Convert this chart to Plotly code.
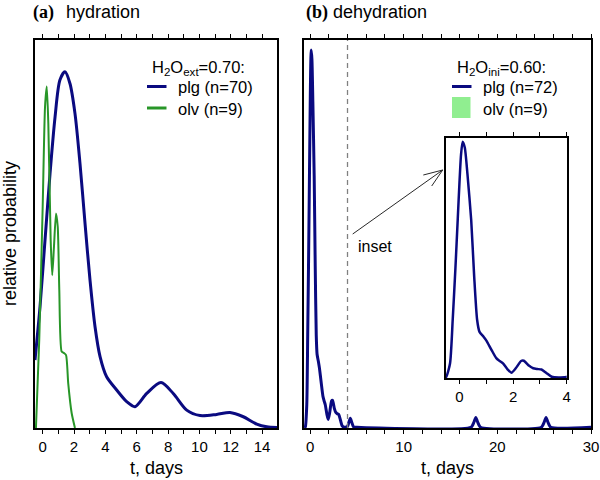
import plotly.graph_objects as go

# ---------------- data ----------------
# (a) hydration, H2O_ext = 0.70
t_plg_a = [-0.49, -0.17, 0.15, 0.47, 0.79, 1.10, 1.42, 1.74, 2.06, 2.38, 2.70, 3.02, 3.34,
           3.66, 4.08, 4.72, 5.36, 5.89, 6.64, 7.55, 8.33, 9.19, 10.04, 11.1, 11.95, 12.8,
           13.66, 14.3, 14.95]
p_plg_a = [0.175, 0.313, 0.485, 0.656, 0.802, 0.897, 0.918, 0.888, 0.811, 0.682, 0.528, 0.381,
           0.261, 0.184, 0.132, 0.098, 0.068, 0.055, 0.089, 0.117, 0.089, 0.046, 0.032, 0.035,
           0.040, 0.029, 0.010, 0.003, 0.001]
t_olv_a = [-0.43, -0.22, 0.0, 0.15, 0.26, 0.36, 0.51, 0.61, 0.72, 0.85, 0.96, 1.06, 1.21,
           1.36, 1.49, 1.63, 1.85, 2.06]
p_olv_a = [0.0, 0.227, 0.57, 0.828, 0.88, 0.785, 0.485, 0.394, 0.467, 0.553, 0.519, 0.356,
           0.197, 0.193, 0.188, 0.115, 0.038, 0.0]

# (b) dehydration, H2O_ini = 0.60
t_plg_b = [-0.6, -0.5, -0.35, -0.25, -0.15, -0.06, 0.0, 0.06, 0.12, 0.2, 0.3, 0.44, 0.55,
           0.66, 0.75, 0.9, 1.0, 1.2, 1.375, 1.5, 1.625, 1.8, 1.94, 2.1, 2.3, 2.4, 2.6, 2.75,
           2.9, 3.06, 3.25, 3.44, 3.7, 4.0, 4.15, 4.3, 4.45, 4.65, 5.0, 17.2, 17.5, 17.7,
           17.9, 18.2, 24.7, 25.0, 25.2, 25.4, 25.7, 30.0]
p_plg_b = [0.0, 0.003, 0.06, 0.24, 0.45, 0.66, 0.80, 0.92, 0.974, 0.95, 0.84, 0.65, 0.42,
           0.24, 0.19, 0.17, 0.155, 0.115, 0.082, 0.07, 0.06, 0.035, 0.022, 0.04, 0.07,
           0.071, 0.05, 0.04, 0.037, 0.035, 0.02, 0.005, 0.002, 0.004, 0.015, 0.025, 0.015,
           0.003, 0.002, 0.002, 0.015, 0.027, 0.015, 0.002, 0.002, 0.015, 0.027, 0.015,
           0.002, 0.002]
olv_b_range = [0.0, 0.78]      # olv time span shown as band in inset
inset_limit = 4.0              # dashed line marking inset extent

# ticks
ticks_a = list(range(0, 15))
ticklabels_a = [str(v) if v % 2 == 0 else " " for v in ticks_a]
ticks_b = list(range(0, 31, 2))
ticklabels_b = [str(v) if v % 10 == 0 else " " for v in ticks_b]
ticks_in = list(range(0, 5))
ticklabels_in = [str(v) if v % 2 == 0 else " " for v in ticks_in]

# ---------------- style ----------------
W, H = 600, 480
BLUE = "rgb(10,10,128)"
GREEN = "rgb(40,150,40)"
LGREEN = "rgb(144,238,144)"
SANS = "Liberation Sans, Arial, sans-serif"
SERIF = "Liberation Serif, Times New Roman, serif"


def px(x):
    return x / W


def py(y):
    return 1 - y / H


fig = go.Figure()
fig.add_trace(go.Scatter(x=t_plg_a, y=p_plg_a, mode="lines", xaxis="x", yaxis="y",
                         line=dict(color=BLUE, width=3, shape="spline", smoothing=0.8)))
fig.add_trace(go.Scatter(x=t_olv_a, y=p_olv_a, mode="lines", xaxis="x", yaxis="y",
                         line=dict(color=GREEN, width=2, shape="spline", smoothing=0.6)))
fig.add_trace(go.Scatter(x=t_plg_b, y=p_plg_b, mode="lines", xaxis="x2", yaxis="y2",
                         line=dict(color=BLUE, width=3, shape="spline", smoothing=0.6)))
fig.add_trace(go.Scatter(x=t_plg_b, y=p_plg_b, mode="lines", xaxis="x3", yaxis="y3",
                         line=dict(color=BLUE, width=2.5, shape="spline", smoothing=0.6)))

ax_common = dict(showline=True, linecolor="black", linewidth=1.5, mirror="ticks",
                 ticks="outside", ticklen=4, tickwidth=1, tickcolor="black",
                 showgrid=False, zeroline=False, automargin=False,
                 tickfont=dict(family=SANS, size=15, color="black"))
ay_common = dict(showline=True, linecolor="black", linewidth=1.5, mirror=True,
                 ticks="", showticklabels=False, showgrid=False, zeroline=False,
                 automargin=False)

ydom = [py(428), py(40)]
fig.update_layout(
    width=W, height=H, margin=dict(l=0, r=0, t=0, b=0),
    paper_bgcolor="white", plot_bgcolor="white", showlegend=False,
    xaxis=dict(domain=[px(35), px(277)], range=[-0.49, 14.95], anchor="y",
               tickmode="array", tickvals=ticks_a, ticktext=ticklabels_a, **ax_common),
    yaxis=dict(domain=ydom, range=[0, 1], anchor="x", **ay_common),
    xaxis2=dict(domain=[px(303.5), px(591)], range=[-0.7, 30], anchor="y2",
                tickmode="array", tickvals=ticks_b, ticktext=ticklabels_b, **ax_common),
    yaxis2=dict(domain=ydom, range=[0, 1], anchor="x2", **ay_common),
    xaxis3=dict(domain=[px(446), px(566.7)], range=[-0.5, 4], anchor="y3",
                tickmode="array", tickvals=ticks_in, ticktext=ticklabels_in, **ax_common),
    yaxis3=dict(domain=[py(378), py(138)], range=[0, 0.989], anchor="x3", **ay_common),
)

shapes = []
# dashed line at inset limit
shapes.append(dict(type="line", xref="x2", yref="y2 domain", x0=inset_limit, x1=inset_limit,
                   y0=0, y1=1, line=dict(color="rgb(128,128,128)", width=1.3, dash="5px,4px")))
# olv band in inset
shapes.append(dict(type="rect", xref="x3", yref="y3 domain", x0=olv_b_range[0],
                   x1=olv_b_range[1], y0=0, y1=1, fillcolor=LGREEN, line=dict(width=0),
                   layer="below"))
# legend symbols
shapes.append(dict(type="line", xref="paper", yref="paper", x0=px(147), x1=px(166.5),
                   y0=py(86.5), y1=py(86.5), line=dict(color=BLUE, width=3)))
shapes.append(dict(type="line", xref="paper", yref="paper", x0=px(147), x1=px(166.5),
                   y0=py(108), y1=py(108), line=dict(color=GREEN, width=3)))
shapes.append(dict(type="line", xref="paper", yref="paper", x0=px(452), x1=px(471.5),
                   y0=py(86.5), y1=py(86.5), line=dict(color=BLUE, width=3)))
shapes.append(dict(type="rect", xref="paper", yref="paper", x0=px(452), x1=px(470.5),
                   y0=py(118), y1=py(97), fillcolor=LGREEN, line=dict(width=0)))
# arrow to inset
arrow_col = "rgb(40,40,40)"
shapes.append(dict(type="line", xref="paper", yref="paper", x0=px(352.7), y0=py(234),
                   x1=px(442.7), y1=py(170), line=dict(color=arrow_col, width=1)))
shapes.append(dict(type="line", xref="paper", yref="paper", x0=px(423.3), y0=py(175),
                   x1=px(442.7), y1=py(170), line=dict(color=arrow_col, width=1)))
shapes.append(dict(type="line", xref="paper", yref="paper", x0=px(431.7), y0=py(186),
                   x1=px(442.7), y1=py(170), line=dict(color=arrow_col, width=1)))
fig.update_layout(shapes=shapes)


def ann(text, x, y, size=16, family=SANS, xanchor="left", angle=0):
    return dict(text=text, x=px(x), y=py(y), xref="paper", yref="paper", showarrow=False,
                xanchor=xanchor, yanchor="middle", textangle=angle,
                font=dict(family=family, size=size, color="black"))


LG = 16.5
annotations = [
    ann("<b>(a)</b>", 30.5, 12, size=18, family=SERIF),
    ann("hydration", 63.5, 12, size=18),
    ann("<b>(b)</b>", 304, 12, size=18, family=SERIF),
    ann("dehydration", 330.5, 12, size=18),
    ann("t, days", 156, 468, size=18, xanchor="center"),
    ann("t, days", 447, 468, size=18, xanchor="center"),
    ann("relative probability", 10, 234, size=18, xanchor="center", angle=-90),
    ann("H<sub>2</sub>O<sub>ext</sub>=0.70:", 150, 67.5, size=LG),
    ann("plg (n=70)", 175.5, 87.5, size=LG),
    ann("olv (n=9)", 175.5, 108.5, size=LG),
    ann("H<sub>2</sub>O<sub>ini</sub>=0.60:", 455, 67.5, size=LG),
    ann("plg (n=72)", 480.5, 87.5, size=LG),
    ann("olv (n=9)", 480.5, 108.5, size=LG),
    ann("inset", 356, 247, size=16),
]
fig.update_layout(annotations=annotations)

fig.write_html("out.html", config={"displayModeBar": False},
               post_script="document.body.style.margin='0';document.body.style.overflow='hidden';")
